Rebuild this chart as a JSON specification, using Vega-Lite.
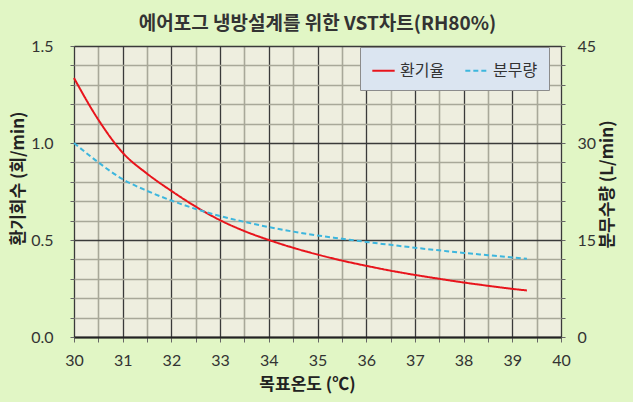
{
  "$schema": "https://vega.github.io/schema/vega-lite/v6.json",
  "autosize": {"type": "none"},
  "padding": {"left": 74, "top": 46, "right": 72, "bottom": 65},
  "width": 487,
  "height": 291,
  "background": "#e1f6c5",
  "title": {
    "text": "에어포그 냉방설계를 위한 VST차트(RH80%)",
    "font": "Noto Sans CJK KR",
    "fontSize": 19,
    "fontWeight": "bold",
    "color": "#333333",
    "anchor": "middle",
    "offset": 4
  },
  "config": {
    "view": {"fill": "#eeeedf", "stroke": "#333333", "strokeWidth": 1},
    "axis": {
      "labelFont": "Lato",
      "labelFontSize": 16,
      "labelColor": "#333333",
      "titleFont": "Noto Sans CJK KR",
      "titleFontSize": 17,
      "titleFontWeight": "bold",
      "titleColor": "#222222",
      "tickColor": "#666666",
      "tickSize": 4
    },
    "legend": {
      "orient": "none",
      "legendX": 286,
      "legendY": 1,
      "direction": "horizontal",
      "columns": 2,
      "fillColor": "#dbe5f1",
      "strokeColor": "#8c8c8c",
      "padding": 11,
      "labelFont": "Noto Sans CJK KR",
      "labelFontSize": 16,
      "labelColor": "#333333",
      "labelOffset": 4,
      "columnPadding": 16,
      "symbolType": "stroke",
      "symbolSize": 500,
      "symbolStrokeWidth": 2
    }
  },
  "data": {
    "values": [
      {"temp": 30, "series": "환기율", "value": 1.335},
      {"temp": 30.5, "series": "환기율", "value": 1.12},
      {"temp": 31, "series": "환기율", "value": 0.95},
      {"temp": 31.5, "series": "환기율", "value": 0.842},
      {"temp": 32, "series": "환기율", "value": 0.753},
      {"temp": 32.5, "series": "환기율", "value": 0.672},
      {"temp": 33, "series": "환기율", "value": 0.602},
      {"temp": 33.5, "series": "환기율", "value": 0.546},
      {"temp": 34, "series": "환기율", "value": 0.5},
      {"temp": 34.5, "series": "환기율", "value": 0.46},
      {"temp": 35, "series": "환기율", "value": 0.425},
      {"temp": 35.5, "series": "환기율", "value": 0.394},
      {"temp": 36, "series": "환기율", "value": 0.367},
      {"temp": 36.5, "series": "환기율", "value": 0.342},
      {"temp": 37, "series": "환기율", "value": 0.32},
      {"temp": 37.5, "series": "환기율", "value": 0.3},
      {"temp": 38, "series": "환기율", "value": 0.281},
      {"temp": 38.5, "series": "환기율", "value": 0.264},
      {"temp": 39, "series": "환기율", "value": 0.248},
      {"temp": 39.3, "series": "환기율", "value": 0.24},
      {"temp": 30, "series": "분무량", "value": 30.0},
      {"temp": 30.5, "series": "분무량", "value": 27.0},
      {"temp": 31, "series": "분무량", "value": 24.4},
      {"temp": 31.5, "series": "분무량", "value": 22.6},
      {"temp": 32, "series": "분무량", "value": 21.1},
      {"temp": 32.5, "series": "분무량", "value": 19.8},
      {"temp": 33, "series": "분무량", "value": 18.7},
      {"temp": 33.5, "series": "분무량", "value": 17.8},
      {"temp": 34, "series": "분무량", "value": 17.0},
      {"temp": 34.5, "series": "분무량", "value": 16.3},
      {"temp": 35, "series": "분무량", "value": 15.7},
      {"temp": 35.5, "series": "분무량", "value": 15.2},
      {"temp": 36, "series": "분무량", "value": 14.7},
      {"temp": 36.5, "series": "분무량", "value": 14.25},
      {"temp": 37, "series": "분무량", "value": 13.8},
      {"temp": 37.5, "series": "분무량", "value": 13.4},
      {"temp": 38, "series": "분무량", "value": 13.0},
      {"temp": 38.5, "series": "분무량", "value": 12.65},
      {"temp": 39, "series": "분무량", "value": 12.3},
      {"temp": 39.3, "series": "분무량", "value": 12.1}
    ]
  },
  "encoding": {
    "x": {
      "field": "temp",
      "type": "quantitative",
      "scale": {"domain": [30, 40], "nice": false, "zero": false},
      "axis": {
        "title": "목표온도 (℃)",
        "titleX": 233,
        "values": [30, 30.5, 31, 31.5, 32, 32.5, 33, 33.5, 34, 34.5, 35, 35.5, 36, 36.5, 37, 37.5, 38, 38.5, 39, 39.5, 40],
        "labelExpr": "datum.value % 1 === 0 ? format(datum.value, 'd') : ''",
        "labelPadding": 10,
        "labelFlush": false,
        "titlePadding": 8,
        "tickSize": 5,
        "domainColor": "#222222",
        "domainWidth": 2,
        "grid": true,
        "gridColor": {"condition": {"test": "datum.value % 1 === 0", "value": "#3a3a3a"}, "value": "#a8a899"},
        "gridWidth": {"condition": {"test": "datum.value % 1 === 0", "value": 1.3}, "value": 1.6}
      }
    },
    "color": {
      "field": "series",
      "type": "nominal",
      "scale": {"domain": ["환기율", "분무량"], "range": ["#e8141c", "#3db6dd"]},
      "legend": {"title": null}
    },
    "strokeDash": {
      "field": "series",
      "type": "nominal",
      "scale": {"domain": ["환기율", "분무량"], "range": [[1, 0], [5, 3]]},
      "legend": {"title": null}
    }
  },
  "layer": [
    {
      "transform": [{"filter": "datum.series === '환기율'"}],
      "mark": {"type": "line", "interpolate": "monotone", "strokeWidth": 2},
      "encoding": {
        "y": {
          "field": "value",
          "type": "quantitative",
          "scale": {"domain": [0, 1.5], "nice": false},
          "axis": {
            "title": "환기회수 (회/min)",
            "orient": "left",
            "values": [0, 0.1, 0.2, 0.3, 0.4, 0.5, 0.6, 0.7, 0.8, 0.9, 1.0, 1.1, 1.2, 1.3, 1.4, 1.5],
            "labelExpr": "abs(datum.value * 2 - round(datum.value * 2)) < 0.001 ? format(datum.value, '.1f') : ''",
            "labelPadding": 17,
            "titlePadding": 3,
            "titleY": 132,
            "domain": false,
            "grid": true,
            "gridColor": {"condition": {"test": "abs(datum.value * 2 - round(datum.value * 2)) < 0.001", "value": "#3a3a3a"}, "value": "#a8a899"},
            "gridWidth": {"condition": {"test": "abs(datum.value * 2 - round(datum.value * 2)) < 0.001", "value": 1.3}, "value": 1.6}
          }
        }
      }
    },
    {
      "transform": [{"filter": "datum.series === '분무량'"}],
      "mark": {"type": "line", "interpolate": "monotone", "strokeWidth": 2},
      "encoding": {
        "y": {
          "field": "value",
          "type": "quantitative",
          "scale": {"domain": [0, 45], "nice": false},
          "axis": {
            "title": "분무수량 (L/min)",
            "orient": "right",
            "values": [0, 3, 6, 9, 12, 15, 18, 21, 24, 27, 30, 33, 36, 39, 42, 45],
            "labelExpr": "datum.value % 15 === 0 ? format(datum.value, 'd') : ''",
            "labelPadding": 12,
            "titlePadding": 4,
            "titleAngle": -90,
            "titleBaseline": "top",
            "titleY": 138,
            "domain": false,
            "grid": false
          }
        }
      }
    }
  ],
  "resolve": {"scale": {"y": "independent"}}
}
